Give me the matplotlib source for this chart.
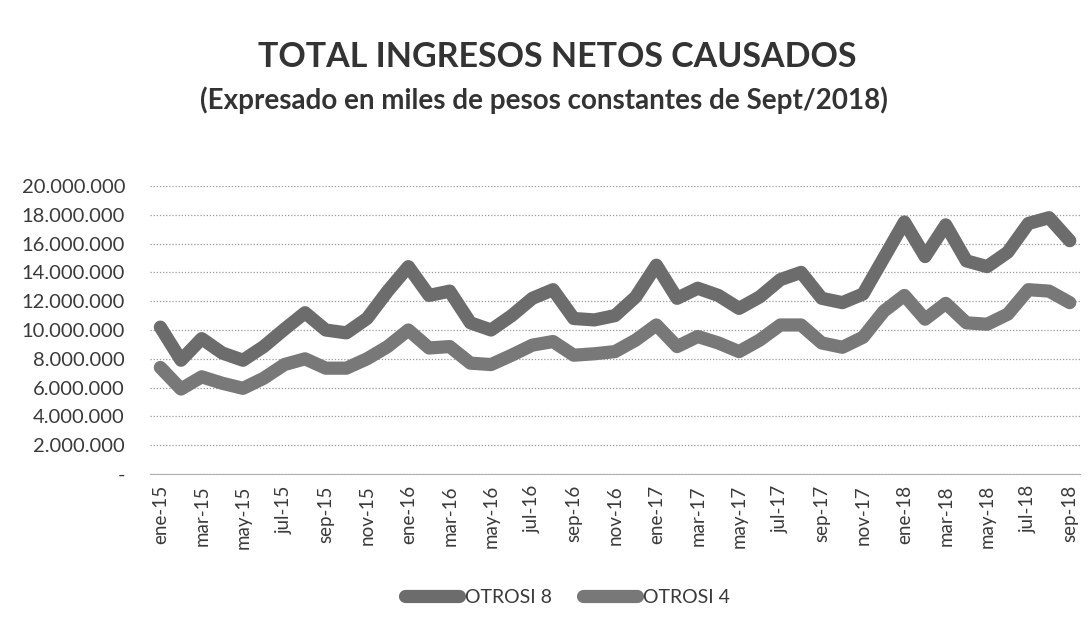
import matplotlib.pyplot as plt
from matplotlib.ticker import FuncFormatter

plt.rcParams['font.family'] = ['Lato', 'DejaVu Sans']

# meses ene-15 .. sep-18
meses = ['ene', 'feb', 'mar', 'abr', 'may', 'jun', 'jul', 'ago', 'sep', 'oct', 'nov', 'dic']
etiquetas = [f'{meses[i % 12]}-{15 + i // 12}' for i in range(45)]

# valores en miles de pesos
otrosi_8 = [10.2, 7.9, 9.4, 8.4, 7.9, 8.85, 10.05, 11.2, 10.0, 9.8,
            10.8, 12.7, 14.4, 12.4, 12.7, 10.5, 10.0, 11.0, 12.2, 12.8,
            10.8, 10.7, 11.0, 12.3, 14.5, 12.2, 12.9, 12.4, 11.5, 12.3,
            13.5, 14.0, 12.2, 11.9, 12.5, 15.0, 17.5, 15.1, 17.3, 14.8,
            14.4, 15.4, 17.4, 17.8, 16.2]
otrosi_4 = [7.4, 5.9, 6.75, 6.3, 5.95, 6.65, 7.6, 8.0, 7.35, 7.35,
            8.0, 8.85, 10.0, 8.75, 8.85, 7.7, 7.6, 8.25, 8.95, 9.2,
            8.25, 8.35, 8.5, 9.3, 10.35, 8.85, 9.55, 9.1, 8.5, 9.3,
            10.35, 10.35, 9.1, 8.8, 9.5, 11.3, 12.4, 10.75, 11.85, 10.5,
            10.4, 11.1, 12.8, 12.7, 11.9]
otrosi_8 = [v * 1e6 for v in otrosi_8]
otrosi_4 = [v * 1e6 for v in otrosi_4]

fig = plt.figure(figsize=(10.91, 6.29), dpi=100)
ax = fig.add_axes([0.1375, 0.2464, 0.8525, 0.4579])

x = range(len(etiquetas))
ax.plot(x, otrosi_8, color='#6c6c6c', lw=9.5, solid_joinstyle='round',
        solid_capstyle='round', label='OTROSI 8')
ax.plot(x, otrosi_4, color='#787878', lw=9.5, solid_joinstyle='round',
        solid_capstyle='round', label='OTROSI 4')

ax.set_xlim(-0.5, 44.5)
ax.set_ylim(0, 20e6)
ax.set_yticks(range(0, 20000001, 2000000))


def miles(v, pos):
    if v == 0:
        return '-'
    return f'{int(v):,}'.replace(',', '.')


ax.yaxis.set_major_formatter(FuncFormatter(miles))
ax.set_xticks(list(x)[::2])
ax.set_xticklabels(etiquetas[::2], rotation=90)
ax.tick_params(axis='x', length=0, pad=8, labelsize=13.5, colors='#3a3a3a')
ax.tick_params(axis='y', length=0, pad=18, labelsize=14.5, colors='#3a3a3a')

ax.grid(axis='y', color='#9a9a9a', lw=0.9, ls=(0, (1, 1.5)))
ax.set_axisbelow(True)
for s in ['top', 'right', 'left']:
    ax.spines[s].set_visible(False)
ax.spines['bottom'].set_color('#b0b0b0')

fig.text(0.511, 0.91, 'TOTAL INGRESOS NETOS CAUSADOS', ha='center', va='center',
         fontsize=24.5, fontweight='bold', color='#333333')
fig.text(0.499, 0.84, '(Expresado en miles de pesos constantes de Sept/2018)',
         ha='center', va='center', fontsize=20, fontweight='bold', color='#333333')

fig.legend(loc='center', bbox_to_anchor=(0.52, 0.05), ncol=2, frameon=False,
           fontsize=14, handlelength=2.8, handletextpad=0.3, columnspacing=1.6,
           labelcolor='#3a3a3a')

fig.savefig('out.png', dpi=100)
